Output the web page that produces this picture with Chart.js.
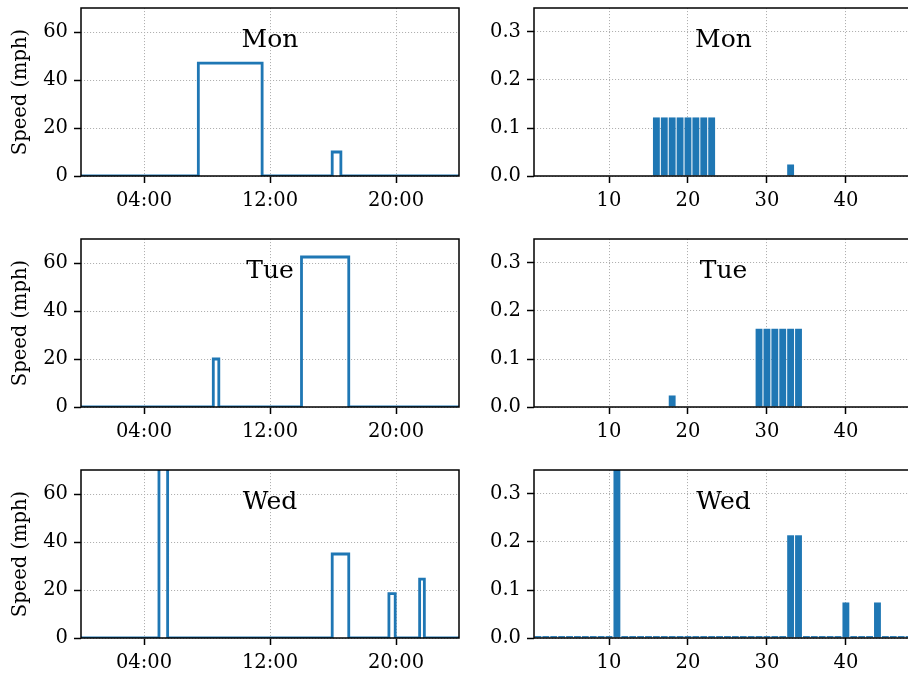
<!DOCTYPE html>
<html lang="en">

<head>
    <meta charset="UTF-8">
    <title>Speed by day</title>
    <script src="https://cdn.jsdelivr.net/npm/chart.js"></script>
    <style>
        body {
            margin: 0;
            width: 908px;
            height: 675px;
            overflow: hidden;
            background: #fff;
            position: relative;
        }

        canvas {
            position: absolute;
        }
    </style>
</head>

<body>
    <script>
        const days = ['Mon', 'Tue', 'Wed'];

        // left column: hour at which the speed changes, and the new speed (mph)
        const monHours = [0, 7.45, 11.5, 15.95, 16.5, 24];
        const monSpeed = [0, 47, 0, 10, 0, 0];
        const tueHours = [0, 8.4, 8.75, 14.0, 17.0, 24];
        const tueSpeed = [0, 20, 0, 62.5, 0, 0];
        const wedHours = [0, 4.95, 5.5, 15.95, 17.0, 19.55, 19.95, 21.5, 21.8, 24];
        const wedSpeed = [0, 75, 0, 35, 0, 18.5, 0, 24.5, 0, 0];

        // right column: histogram bins and their density
        const monBins = [16, 17, 18, 19, 20, 21, 22, 23, 33];
        const monFreq = [0.122, 0.122, 0.122, 0.122, 0.122, 0.122, 0.122, 0.122, 0.024];
        const tueBins = [18, 29, 30, 31, 32, 33, 34];
        const tueFreq = [0.024, 0.163, 0.163, 0.163, 0.163, 0.163, 0.163];
        const wedBins = [1, 2, 3, 4, 5, 6, 7, 8, 9, 10, 11, 12, 13, 14, 15, 16, 17, 18, 19, 20, 21, 22, 23, 24,
            25, 26, 27, 28, 29, 30, 31, 32, 33, 34, 35, 36, 37, 38, 39, 40, 41, 42, 43, 44, 45, 46, 47, 48];
        const wedFreq = [0.004, 0.004, 0.004, 0.004, 0.004, 0.004, 0.004, 0.004, 0.004, 0.004, 0.42, 0.004,
            0.004, 0.004, 0.004, 0.004, 0.004, 0.004, 0.004, 0.004, 0.004, 0.004, 0.004, 0.004,
            0.004, 0.004, 0.004, 0.004, 0.004, 0.004, 0.004, 0.004, 0.214, 0.214, 0.004, 0.004,
            0.004, 0.004, 0.004, 0.074, 0.004, 0.004, 0.004, 0.074, 0.004, 0.004, 0.004, 0.004];

        const timeTicks = [4, 12, 20];
        const speedTicks = [0, 20, 40, 60];
        const binTicks = [10, 20, 30, 40];
        const freqTicks = [0, 0.1, 0.2, 0.3];

        const lineSeries = [[monHours, monSpeed], [tueHours, tueSpeed], [wedHours, wedSpeed]];
        const histSeries = [[monBins, monFreq], [tueBins, tueFreq], [wedBins, wedFreq]];

        const BLUE = '#1f77b4';
        Chart.defaults.font.family = '"DejaVu Serif", serif';
        Chart.defaults.font.size = 19.5;
        Chart.defaults.color = '#000';

        // plot-area rows (top) in page pixels
        const rowTop = [8, 239, 470];
        const plotH = 168;
        const PAD_TOP = 22, AXIS_H = 44;

        // all four spines + the day label inside the axes
        const framePlugin = {
            id: 'frame',
            afterDraw(chart, args, opts) {
                const { ctx, chartArea: a } = chart;
                ctx.save();
                ctx.strokeStyle = '#000';
                ctx.lineWidth = 1.5;
                ctx.strokeRect(a.left, a.top, a.right - a.left, a.bottom - a.top);
                ctx.font = '25px "DejaVu Serif"';
                ctx.fillStyle = '#000';
                ctx.textAlign = 'center';
                ctx.textBaseline = 'alphabetic';
                ctx.fillText(opts.label, (a.left + a.right) / 2, a.top + 38.5);
                ctx.restore();
            }
        };

        function axis(min, max, ticks, extra) {
            return Object.assign({
                type: 'linear',
                min: min,
                max: max,
                offset: false,
                afterBuildTicks: s => { s.ticks = ticks.map(v => ({ value: v })); },
                grid: {
                    offset: false,
                    color: '#b0b0b0',
                    lineWidth: 1,
                    tickColor: '#000',
                    tickWidth: 1.5,
                    tickLength: 7
                },
                border: { display: false, dash: [1.1, 1.9] },
                ticks: { padding: 6 }
            }, extra);
        }

        function makeCanvas(left, top, width, height) {
            const c = document.createElement('canvas');
            c.width = width;
            c.height = height;
            c.style.left = left + 'px';
            c.style.top = top + 'px';
            document.body.appendChild(c);
            return c;
        }

        function baseOptions(label, padRight) {
            return {
                responsive: false,
                animation: false,
                events: [],
                layout: { padding: { top: PAD_TOP, left: 0, right: padRight, bottom: 0 } },
                plugins: { legend: { display: false }, tooltip: { enabled: false }, frame: { label: label } }
            };
        }

        days.forEach((day, r) => {
            const top = rowTop[r] - PAD_TOP;
            const h = PAD_TOP + plotH + AXIS_H;

            // speed over the day
            const [hours, speed] = lineSeries[r];
            new Chart(makeCanvas(0, top, 462, h), {
                type: 'line',
                data: {
                    datasets: [{
                        data: hours.map((x, i) => ({ x: x, y: speed[i] })),
                        stepped: 'before',
                        borderColor: BLUE,
                        borderWidth: 2.8,
                        pointRadius: 0,
                        fill: false
                    }]
                },
                options: Object.assign(baseOptions(day, 3), {
                    scales: {
                        x: axis(0, 24, timeTicks, {
                            afterFit: s => { s.height = AXIS_H; },
                            ticks: { padding: 6, callback: v => String(v).padStart(2, '0') + ':00' }
                        }),
                        y: axis(0, 70, speedTicks, {
                            afterFit: s => { s.width = 81; },
                            title: { display: true, text: 'Speed (mph)', padding: { top: 9, bottom: 0 } }
                        })
                    }
                }),
                plugins: [framePlugin]
            });

            // speed histogram
            const [bins, freq] = histSeries[r];
            new Chart(makeCanvas(462, top, 456, h), {
                type: 'bar',
                data: {
                    datasets: [{
                        data: bins.map((x, i) => ({ x: x, y: freq[i] })),
                        backgroundColor: BLUE,
                        borderWidth: 0,
                        barPercentage: 0.87,
                        categoryPercentage: 1,
                        clip: 0
                    }]
                },
                options: Object.assign(baseOptions(day, 5), {
                    scales: {
                        x: axis(0.5, 48.5, binTicks, {
                            afterFit: s => { s.height = AXIS_H; }
                        }),
                        y: axis(0, 0.35, freqTicks, {
                            afterFit: s => { s.width = 72; },
                            ticks: { padding: 6, callback: v => v.toFixed(1) }
                        })
                    }
                }),
                plugins: [framePlugin]
            });
        });
    </script>
</body>

</html>
